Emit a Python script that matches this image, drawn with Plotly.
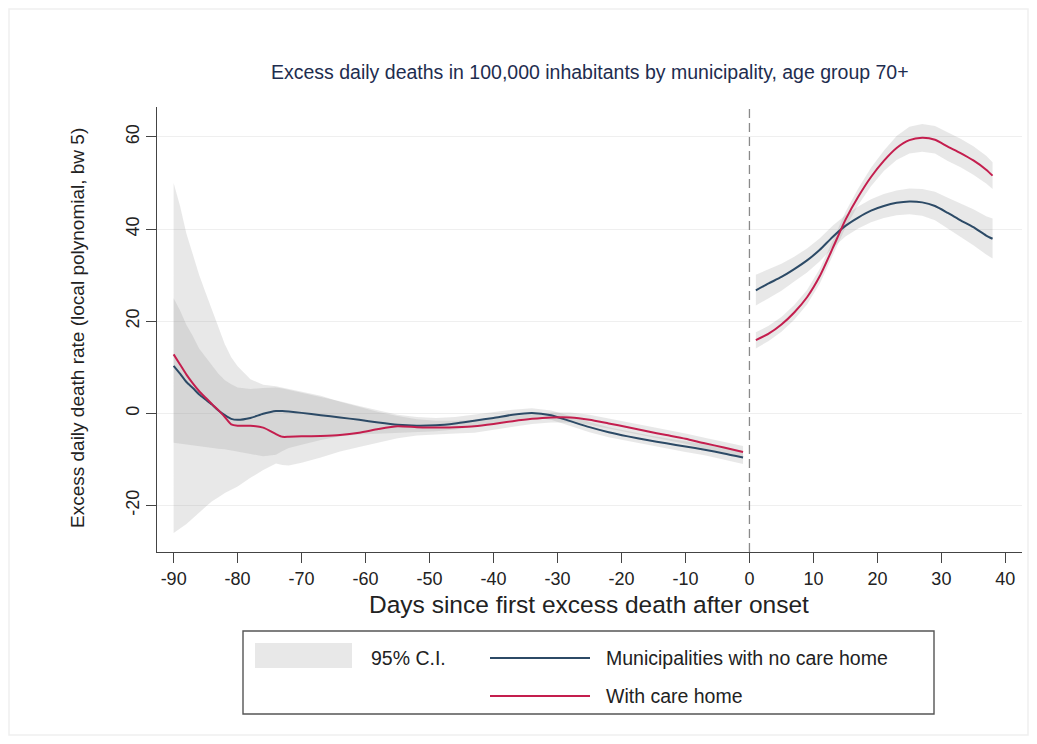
import plotly.graph_objects as go

# ---------------- data ----------------
days_pre = [-90, -89, -88, -87, -86, -85, -84, -83, -82, -81, -80, -78, -76, -74, -73, -72,
            -70, -67, -64, -61, -58, -55, -52, -49, -46, -43, -40, -37, -34, -31, -28, -25,
            -22, -19, -16, -13, -10, -7, -4, -1]
days_post = [1, 3, 5, 7, 9, 11, 13, 15, 17, 19, 21, 23, 25, 27, 29, 31, 33, 35, 37, 38]

# Municipalities with no care home
nocare_pre = [10.3, 8.6, 6.8, 5.5, 4.1, 3.0, 1.9, 0.6, -0.4, -1.2, -1.4, -1.0, -0.1, 0.5, 0.5, 0.4,
              0.1, -0.4, -0.9, -1.4, -2.0, -2.5, -2.7, -2.6, -2.2, -1.6, -1.0, -0.3, 0.1, -0.4, -1.7, -3.0,
              -4.1, -5.0, -5.8, -6.5, -7.2, -7.9, -8.7, -9.6]
nocare_pre_hi = [25.0, 22.3, 19.2, 16.8, 14.0, 12.2, 10.2, 8.6, 7.2, 6.3, 5.6, 5.3, 5.5, 5.6, 5.4, 5.1,
                 4.5, 3.6, 2.6, 1.6, 0.6, -0.3, -0.8, -1.0, -0.8, -0.3, 0.2, 0.8, 1.1, 0.6, -0.6, -1.9,
                 -3.0, -3.9, -4.7, -5.4, -6.0, -6.7, -7.4, -8.2]
nocare_pre_lo = [-6.4, -6.6, -6.8, -7.0, -7.1, -7.3, -7.5, -7.7, -7.8, -8.0, -8.2, -8.8, -9.3, -9.0, -8.2, -7.5,
                 -6.8, -5.8, -5.0, -4.6, -4.4, -4.3, -4.1, -3.9, -3.5, -2.9, -2.2, -1.4, -0.9, -1.4, -2.8, -4.1,
                 -5.2, -6.1, -6.9, -7.6, -8.4, -9.1, -10.0, -11.0]
nocare_post = [26.7, 28.2, 29.6, 31.3, 33.2, 35.5, 38.3, 40.7, 42.5, 44.0, 45.0, 45.7, 46.0, 45.8, 45.0,
               43.5, 41.9, 40.4, 38.6, 37.9]
nocare_post_hi = [30.1, 31.3, 32.5, 34.0, 35.8, 38.0, 40.7, 43.0, 44.9, 46.5, 47.6, 48.4, 48.8, 48.7, 48.1,
                  46.8, 45.5, 44.3, 42.8, 42.3]
nocare_post_lo = [23.4, 25.0, 26.6, 28.6, 30.6, 33.0, 35.9, 38.4, 40.1, 41.5, 42.4, 43.0, 43.2, 42.9, 41.9,
                  40.2, 38.3, 36.5, 34.5, 33.6]

# With care home
care_pre = [12.8, 10.6, 8.4, 6.5, 4.8, 3.4, 2.0, 0.7, -0.8, -2.4, -2.7, -2.7, -3.1, -4.5, -5.1, -5.1,
            -5.0, -4.9, -4.7, -4.2, -3.4, -2.8, -3.0, -3.1, -3.0, -2.8, -2.3, -1.7, -1.2, -0.9, -0.9, -1.4,
            -2.2, -3.0, -3.9, -4.7, -5.5, -6.5, -7.4, -8.4]
care_pre_hi = [50.0, 45.0, 39.0, 34.5, 30.0, 26.2, 22.5, 18.5, 15.0, 12.2, 10.2, 7.4, 6.2, 5.9, 5.6, 5.3,
               4.8, 3.8, 2.5, 1.4, 0.3, -0.6, -1.3, -1.6, -1.6, -1.4, -1.0, -0.5, -0.1, 0.2, 0.2, -0.3,
               -1.1, -1.9, -2.8, -3.6, -4.4, -5.3, -6.2, -7.1]
care_pre_lo = [-26.0, -25.0, -24.0, -22.8, -21.6, -20.3, -19.1, -18.2, -17.3, -16.6, -15.9, -14.0, -12.3, -10.9,
               -11.2, -11.3, -10.7, -9.6, -8.3, -7.3, -6.3, -5.4, -4.8, -4.6, -4.4, -4.2, -3.6, -2.9, -2.3,
               -2.0, -2.0, -2.5, -3.3, -4.1, -5.0, -5.8, -6.6, -7.7, -8.6, -9.7]
care_post = [15.9, 17.3, 19.3, 21.9, 25.2, 29.8, 35.8, 42.0, 47.0, 51.3, 54.8, 57.6, 59.3, 59.8, 59.4,
             57.9, 56.5, 54.9, 52.9, 51.6]
care_post_hi = [17.6, 19.0, 20.9, 23.5, 26.8, 31.4, 37.4, 43.7, 48.8, 53.3, 57.0, 60.2, 62.2, 62.8, 62.4,
                61.0, 59.6, 58.0, 55.9, 54.5]
care_post_lo = [14.1, 15.7, 17.7, 20.3, 23.6, 28.2, 34.2, 40.3, 45.2, 49.3, 52.6, 55.0, 56.4, 56.8, 56.4,
                54.8, 53.4, 51.8, 49.9, 48.7]

x_ticks = [-90, -80, -70, -60, -50, -40, -30, -20, -10, 0, 10, 20, 30, 40]
y_ticks = [-20, 0, 20, 40, 60]
onset_day = 0

title_text = "Excess daily deaths in 100,000 inhabitants by municipality, age group 70+"
xtitle_text = "Days since first excess death after onset"
ytitle_text = "Excess daily death rate (local polynomial, bw 5)"
legend_labels = ["95% C.I.", "Municipalities with no care home", "With care home"]

# ---------------- styling ----------------
# The page body has an 8px margin, so the figure is sized to fit inside it and
# reference pixel positions are shifted by that offset.
OFF = 8
W, H = 1037 - 2 * OFF, 744 - 2 * OFF
ML, MT = 157 - OFF, 107 - OFF
MR = W - (1022 - OFF)
MB = H - (552 - OFF)
PW, PH = W - ML - MR, H - MT - MB
FONT = "Liberation Sans, Arial, Helvetica, sans-serif"
C_BLUE = "#2c4a66"
C_RED = "#c41e4e"
C_FILL = "rgba(150,150,150,0.22)"
C_TEXT = "#222222"


def px_x(px):
    return (px - OFF - ML) / PW


def px_y(py):
    return (H - MB - (py - OFF)) / PH


fig = go.Figure()


def band(days, hi, lo):
    fig.add_trace(go.Scatter(
        x=list(days) + list(days[::-1]), y=list(hi) + list(lo[::-1]),
        fill="toself", fillcolor=C_FILL, line=dict(width=0), mode="lines",
        hoverinfo="skip", showlegend=False))


band(days_pre, care_pre_hi, care_pre_lo)
band(days_pre, nocare_pre_hi, nocare_pre_lo)
band(days_post, care_post_hi, care_post_lo)
band(days_post, nocare_post_hi, nocare_post_lo)

x_all = days_pre + [None] + days_post
fig.add_trace(go.Scatter(x=x_all, y=nocare_pre + [None] + nocare_post, mode="lines",
                         line=dict(color=C_BLUE, width=2, shape="spline", smoothing=0.6),
                         name=legend_labels[1], showlegend=False, connectgaps=False))
fig.add_trace(go.Scatter(x=x_all, y=care_pre + [None] + care_post, mode="lines",
                         line=dict(color=C_RED, width=2, shape="spline", smoothing=0.6),
                         name=legend_labels[2], showlegend=False, connectgaps=False))

shapes = [
    dict(type="line", xref="x", yref="paper", x0=onset_day, x1=onset_day, y0=0, y1=1,
         line=dict(color="#8a8a8a", width=1.3, dash="9px,5px")),
    # faint outer frame
    dict(type="rect", xref="paper", yref="paper", x0=px_x(9), x1=px_x(1028), y0=px_y(735), y1=px_y(9),
         line=dict(color="#f0f0f0", width=1.5), layer="below"),
    # legend box
    dict(type="rect", xref="paper", yref="paper", x0=px_x(243), x1=px_x(934), y0=px_y(714), y1=px_y(631),
         line=dict(color="#555555", width=1.4)),
    dict(type="rect", xref="paper", yref="paper", x0=px_x(255), x1=px_x(352), y0=px_y(668), y1=px_y(643),
         fillcolor=C_FILL, line=dict(width=0)),
    dict(type="line", xref="paper", yref="paper", x0=px_x(490), x1=px_x(590), y0=px_y(658), y1=px_y(658),
         line=dict(color=C_BLUE, width=2)),
    dict(type="line", xref="paper", yref="paper", x0=px_x(490), x1=px_x(590), y0=px_y(696), y1=px_y(696),
         line=dict(color=C_RED, width=2)),
]

annotations = [
    dict(text=title_text, xref="paper", yref="paper", x=px_x(590), y=px_y(72), showarrow=False,
         xanchor="center", yanchor="middle", font=dict(family=FONT, size=19.5, color="#1e2d4f")),
    dict(text=xtitle_text, xref="paper", yref="paper", x=px_x(589), y=px_y(604), showarrow=False,
         xanchor="center", yanchor="middle", font=dict(family=FONT, size=24.5, color=C_TEXT)),
    dict(text=ytitle_text, xref="paper", yref="paper", x=px_x(77), y=px_y(328), showarrow=False,
         textangle=-90, xanchor="center", yanchor="middle", font=dict(family=FONT, size=19, color=C_TEXT)),
    dict(text=legend_labels[0], xref="paper", yref="paper", x=px_x(369), y=px_y(658), showarrow=False,
         xanchor="left", yanchor="middle", font=dict(family=FONT, size=19.5, color=C_TEXT)),
    dict(text=legend_labels[1], xref="paper", yref="paper", x=px_x(604), y=px_y(658), showarrow=False,
         xanchor="left", yanchor="middle", font=dict(family=FONT, size=19.5, color=C_TEXT)),
    dict(text=legend_labels[2], xref="paper", yref="paper", x=px_x(604), y=px_y(696), showarrow=False,
         xanchor="left", yanchor="middle", font=dict(family=FONT, size=19.5, color=C_TEXT)),
]

fig.update_layout(
    width=W, height=H,
    margin=dict(l=ML, r=MR, t=MT, b=MB, pad=0),
    paper_bgcolor="white", plot_bgcolor="white",
    showlegend=False,
    shapes=shapes, annotations=annotations,
    font=dict(family=FONT, color=C_TEXT),
    xaxis=dict(range=[-92.6, 42.6], tickvals=x_ticks, ticktext=[str(v) for v in x_ticks],
               ticks="outside", ticklen=10, tickwidth=1.2,
               tickcolor="#444444", showline=True, linecolor="#444444", linewidth=1.3, showgrid=False,
               zeroline=False, tickfont=dict(family=FONT, size=18, color=C_TEXT)),
    yaxis=dict(range=[-30.1, 66.5], tickvals=y_ticks, ticktext=[str(v) for v in y_ticks],
               ticks="outside", ticklen=10, tickwidth=1.2,
               tickcolor="#444444", showline=True, linecolor="#444444", linewidth=1.3, showgrid=True,
               gridcolor="#efefef", gridwidth=1, zeroline=False, tickangle=-90,
               tickfont=dict(family=FONT, size=18, color=C_TEXT)),
)

fig.write_html("out.html")
